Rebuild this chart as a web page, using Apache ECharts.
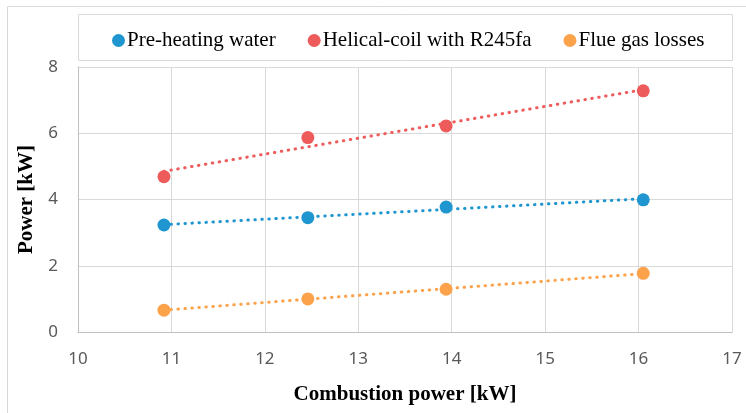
<!DOCTYPE html>
<html><head><meta charset="utf-8">
<script src="https://cdn.jsdelivr.net/npm/echarts@6/dist/echarts.min.js"></script>
<style>html,body{margin:0;padding:0;background:#fff}#c{width:746px;height:413px}</style>
</head><body><div id="c"></div>
<script>
const seriesNames = ['Pre-heating water', 'Helical-coil with R245fa', 'Flue gas losses'];
const combustionPower = [10.92, 12.46, 13.94, 16.05];
const preHeating = [3.23, 3.45, 3.77, 3.99];
const helicalCoil = [4.69, 5.87, 6.22, 7.28];
const flueGas = [0.66, 1.00, 1.29, 1.77];
const xTicks = [10, 11, 12, 13, 14, 15, 16, 17];
const yTicks = [0, 2, 4, 6, 8];
const colors = ['#1f96cf', '#ee5b5b', '#fca24b'];

function trend(xs, ys) {
  const n = xs.length;
  const mx = xs.reduce((a, b) => a + b, 0) / n;
  const my = ys.reduce((a, b) => a + b, 0) / n;
  let sxy = 0, sxx = 0;
  for (let i = 0; i < n; i++) { sxy += (xs[i] - mx) * (ys[i] - my); sxx += (xs[i] - mx) ** 2; }
  const b = sxy / sxx, a = my - b * mx;
  const x0 = Math.min(...xs), x1 = Math.max(...xs);
  return [[x0, a + b * x0], [x1, a + b * x1]];
}

const ys = [preHeating, helicalCoil, flueGas];
const series = [];
ys.forEach((arr, i) => {
  series.push({
    name: seriesNames[i] + ' trend', type: 'line', data: trend(combustionPower, arr),
    symbol: 'none', silent: true, z: 2,
    lineStyle: { color: colors[i], width: 3, type: [0.5, 6.5], cap: 'round' }
  });
});
ys.forEach((arr, i) => {
  series.push({
    name: seriesNames[i], type: 'scatter', data: combustionPower.map((x, j) => [x, arr[j]]),
    symbol: 'circle', symbolSize: 13, z: 3,
    itemStyle: { color: colors[i], opacity: 1 }
  });
});

const chart = echarts.init(document.getElementById('c'), null, { renderer: 'canvas' });
chart.setOption({
  animation: false,
  color: colors,
  graphic: [
    { type: 'rect', shape: { x: 7.5, y: 6.5, width: 760, height: 430 }, style: { fill: 'none', stroke: '#d9d9d9', lineWidth: 1 } },
    { type: 'rect', shape: { x: 78.5, y: 14.5, width: 654, height: 46 }, style: { fill: 'none', stroke: '#d9d9d9', lineWidth: 1 } }
  ],
  legend: {
    data: seriesNames, top: 25, left: 107, itemGap: 32, itemWidth: 13, itemHeight: 13,
    icon: 'circle',
    itemStyle: { opacity: 1 },
    textStyle: { fontFamily: 'Liberation Serif', fontSize: 21, color: '#000', padding: [0, 0, 0, -3] }
  },
  grid: { left: 78, right: 14, top: 67, bottom: 81, containLabel: false },
  xAxis: {
    type: 'value', min: xTicks[0], max: xTicks[xTicks.length - 1], interval: 1,
    name: 'Combustion power [kW]', nameLocation: 'middle', nameGap: 52,
    nameTextStyle: { fontFamily: 'Liberation Serif', fontWeight: 'bold', fontSize: 21, color: '#000' },
    axisLine: { lineStyle: { color: '#bfbfbf', width: 1 } },
    axisTick: { show: false },
    axisLabel: { margin: 19, fontFamily: 'Noto Sans', fontSize: 17, color: '#595959' },
    splitLine: { show: true, lineStyle: { color: '#d9d9d9', width: 1 } }
  },
  yAxis: {
    type: 'value', min: yTicks[0], max: yTicks[yTicks.length - 1], interval: 2,
    name: 'Power [kW]', nameLocation: 'middle', nameGap: 41,
    nameTextStyle: { fontFamily: 'Liberation Serif', fontWeight: 'bold', fontSize: 21, color: '#000' },
    axisLine: { show: true, lineStyle: { color: '#bfbfbf', width: 1 } },
    axisTick: { show: false },
    axisLabel: { margin: 20, fontFamily: 'Noto Sans', fontSize: 17, color: '#595959' },
    splitLine: { show: true, lineStyle: { color: '#d9d9d9', width: 1 } }
  },
  series: series
});
</script></body></html>
